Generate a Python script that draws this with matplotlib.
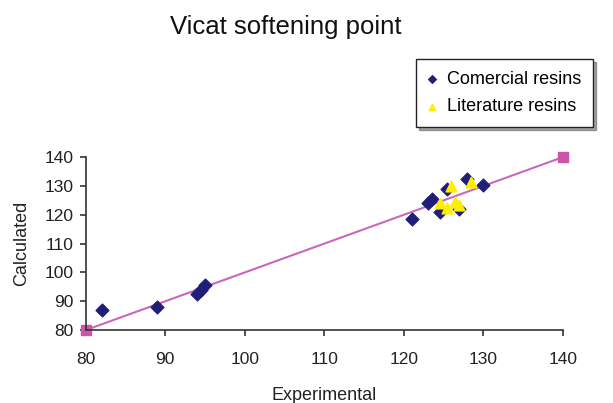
import matplotlib
matplotlib.use("Agg")
import matplotlib.pyplot as plt

plt.rcParams['font.family'] = ['Liberation Sans', 'DejaVu Sans']

# Commercial resins: experimental vs calculated Vicat softening point
com_exp = [82, 89, 94, 94.5, 95, 121, 123, 123.5, 124.5, 125.5, 127, 128, 130]
com_calc = [87, 88, 92.5, 94, 95.5, 118.5, 124, 125.5, 121, 129, 122, 132.5, 130.5]

# Literature resins
lit_exp = [124.5, 125.5, 126.5, 126, 128.5, 127]
lit_calc = [124, 122.5, 124.5, 130, 131.5, 123.5]

# Identity line endpoints
ref_line = [80, 140]

x_ticks = [80, 90, 100, 110, 120, 130, 140]
y_ticks = [80, 90, 100, 110, 120, 130, 140]

fig = plt.figure(figsize=(6.13, 4.03), dpi=100)
ax = fig.add_axes([0.140, 0.181, 0.778, 0.429])

ax.plot(ref_line, ref_line, color='#cc66bb', lw=1.5, marker='s', ms=6.5,
        mfc='#cc55aa', mec='#cc55aa', zorder=2, clip_on=False)
com = ax.scatter(com_exp, com_calc, marker='D', s=42, color='#1f1f7a',
                 zorder=3, clip_on=False, label='Comercial resins')
lit = ax.scatter(lit_exp, lit_calc, marker='^', s=60, color='#ffee00',
                 zorder=4, clip_on=False, label='Literature resins')

ax.set_xlim(80, 140)
ax.set_ylim(80, 140)
ax.set_xticks(x_ticks)
ax.set_yticks(y_ticks)
for s in ('top', 'right'):
    ax.spines[s].set_visible(False)
for s in ('left', 'bottom'):
    ax.spines[s].set_color('#333333')
    ax.spines[s].set_linewidth(1.2)
ax.tick_params(direction='out', length=4, width=1.2, color='#333333',
               labelsize=12.5, labelcolor='#222222')
ax.tick_params(axis='x', pad=12)
ax.tick_params(axis='y', pad=5)

ax.set_xlabel('Experimental', fontsize=13, color='#222222', labelpad=14)
ax.set_ylabel('Calculated', fontsize=13, color='#222222', labelpad=10)

fig.text(0.466, 0.932, 'Vicat softening point', ha='center', va='center',
         fontsize=18.5, color='#111111')

leg = fig.legend(handles=[com, lit], loc='upper left',
                 bbox_to_anchor=(0.679, 0.854), borderaxespad=0, fontsize=13,
                 frameon=True, fancybox=False, shadow=True,
                 handletextpad=0.55, handlelength=0.5, borderpad=0.65,
                 labelspacing=0.6, markerscale=0.6)
leg.get_frame().set_edgecolor('#222222')
leg.get_frame().set_linewidth(1.0)

fig.savefig('out.png', dpi=100)
